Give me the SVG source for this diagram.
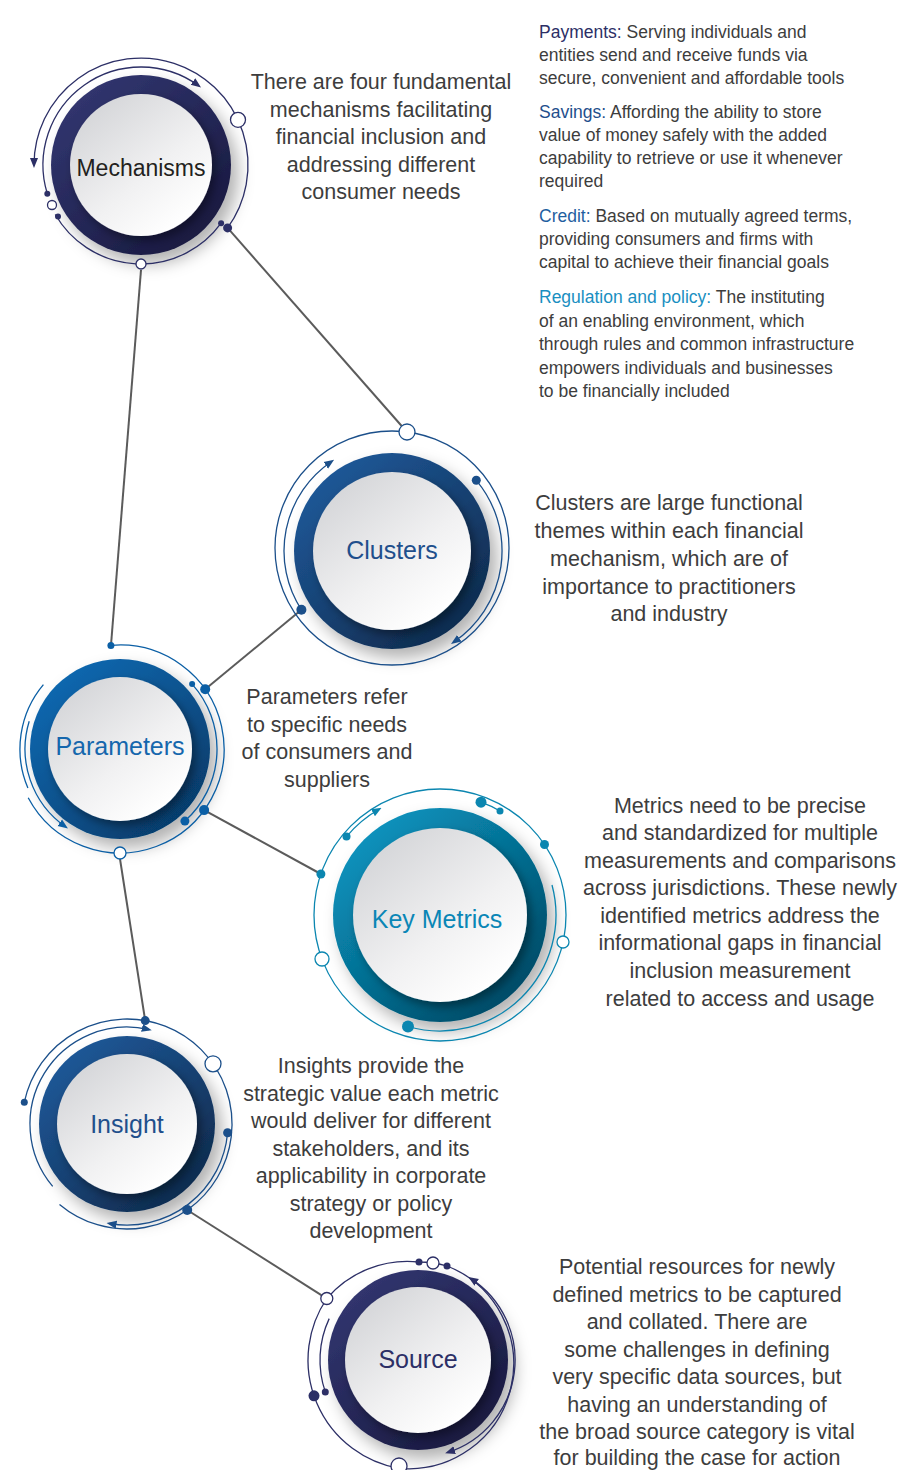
<svg xmlns="http://www.w3.org/2000/svg" width="901" height="1470" viewBox="0 0 901 1470">
<style>
.desc{font-family:"Liberation Sans",Arial,sans-serif;font-size:21.5px;fill:#3d3d3d;text-anchor:middle}
.side{font-family:"Liberation Sans",Arial,sans-serif;font-size:17.5px;fill:#3d3d3d}
.lbl{font-family:"Liberation Sans",Arial,sans-serif;font-size:25px;text-anchor:middle}
.conn{stroke:#5b5b5b;stroke-width:2;fill:none}
.arc{fill:none;stroke-width:1.3}
.hol{fill:#fff;stroke-width:1.3}
.navy .arc,.navy .hol{stroke:#2c2f66}.navy .dot{fill:#2c2f66}
.blue .arc,.blue .hol{stroke:#1b4f8a}.blue .dot{fill:#1b4f8a}
.pblue .arc,.pblue .hol{stroke:#0b5fa5}.pblue .dot{fill:#0b5fa5}
.teal .arc,.teal .hol{stroke:#0b86b0}.teal .dot{fill:#0b86b0}
</style>
<defs>
<linearGradient id="gNavy" x1="0.15" y1="0.1" x2="0.85" y2="0.9"><stop offset="0" stop-color="#31356f"/><stop offset="1" stop-color="#191a40"/></linearGradient>
<linearGradient id="gBlue" x1="0.15" y1="0.1" x2="0.85" y2="0.9"><stop offset="0" stop-color="#1e5898"/><stop offset="1" stop-color="#0f2b4e"/></linearGradient>
<linearGradient id="gPar" x1="0.15" y1="0.1" x2="0.85" y2="0.9"><stop offset="0" stop-color="#0d68b0"/><stop offset="1" stop-color="#063c6b"/></linearGradient>
<linearGradient id="gTeal" x1="0.15" y1="0.1" x2="0.85" y2="0.9"><stop offset="0" stop-color="#0a93be"/><stop offset="1" stop-color="#004a66"/></linearGradient>
<linearGradient id="gIn" x1="0.15" y1="0.1" x2="0.8" y2="0.9"><stop offset="0" stop-color="#d5d6d9"/><stop offset="0.6" stop-color="#f1f1f2"/><stop offset="1" stop-color="#ffffff"/></linearGradient>
<filter id="sh" x="-30%" y="-30%" width="170%" height="170%"><feDropShadow dx="7" dy="9" stdDeviation="8" flood-color="#000" flood-opacity="0.3"/></filter>
<filter id="shIn" x="-30%" y="-30%" width="170%" height="170%"><feDropShadow dx="4" dy="5" stdDeviation="5" flood-color="#000" flood-opacity="0.4"/></filter>
<marker id="aNavy" viewBox="0 0 10 10" refX="7" refY="5" markerWidth="10" markerHeight="10" markerUnits="userSpaceOnUse" orient="auto-start-reverse"><path d="M0,1 L10,5 L0,9 z" fill="#2c2f66"/></marker>
<marker id="aBlue" viewBox="0 0 10 10" refX="7" refY="5" markerWidth="10" markerHeight="10" markerUnits="userSpaceOnUse" orient="auto-start-reverse"><path d="M0,1 L10,5 L0,9 z" fill="#1b4f8a"/></marker>
<marker id="aPar" viewBox="0 0 10 10" refX="7" refY="5" markerWidth="10" markerHeight="10" markerUnits="userSpaceOnUse" orient="auto-start-reverse"><path d="M0,1 L10,5 L0,9 z" fill="#0b5fa5"/></marker>
<marker id="aTeal" viewBox="0 0 10 10" refX="7" refY="5" markerWidth="10" markerHeight="10" markerUnits="userSpaceOnUse" orient="auto-start-reverse"><path d="M0,1 L10,5 L0,9 z" fill="#0b86b0"/></marker>
</defs>
<rect width="901" height="1470" fill="#ffffff"/>

<g id="connectors">
<path class="conn" d="M141,270 L111,645"/>
<path class="conn" d="M227.6,227.9 L401.7,426"/>
<path class="conn" d="M205.2,689.3 L301.4,609.8"/>
<path class="conn" d="M204.1,810.1 L320.9,874"/>
<path class="conn" d="M120,859 L145.2,1020.6"/>
<path class="conn" d="M187.2,1210 L321.7,1295.3"/>
</g>

<g id="mechanisms" class="navy">
<circle cx="141" cy="165" r="90" fill="url(#gNavy)" filter="url(#sh)"/>
<circle cx="141" cy="165" r="71" fill="url(#gIn)" filter="url(#shIn)"/>
<text class="lbl" x="141" y="176" fill="#231f20" style="font-size:23px">Mechanisms</text>
<path class="arc" d="M34,165 A107,107 0 1 1 227.6,227.9" marker-start="url(#aNavy)"/>
<path class="arc" d="M198.6,85.7 A98,98 0 0 0 47.3,193.7" marker-start="url(#aNavy)"/>
<path class="arc" d="M55.3,214.5 A99,99 0 0 0 221.1,223.2"/>
<circle class="hol" cx="238" cy="119.8" r="7.5"/>
<circle class="dot" cx="227.6" cy="227.9" r="4.5"/>
<circle class="dot" cx="47.3" cy="193.7" r="3"/>
<circle class="hol" cx="52" cy="205" r="4.5"/>
<circle class="dot" cx="58" cy="216.5" r="3"/>
<circle class="dot" cx="221.1" cy="223.2" r="3"/>
<circle class="hol" cx="141" cy="264" r="5"/>
</g>
<text class="desc"><tspan x="381" y="89">There are four fundamental</tspan><tspan x="381" y="117">mechanisms facilitating</tspan><tspan x="381" y="144">financial inclusion and</tspan><tspan x="381" y="172">addressing different</tspan><tspan x="381" y="199">consumer needs</tspan></text>

<text class="side">
<tspan x="539" y="37.7"><tspan fill="#2c2f66">Payments:</tspan> Serving individuals and</tspan>
<tspan x="539" y="60.7">entities send and receive funds via</tspan>
<tspan x="539" y="83.7">secure, convenient and affordable tools</tspan>
<tspan x="539" y="118.3"><tspan fill="#1f4f8c">Savings:</tspan> Affording the ability to store</tspan>
<tspan x="539" y="141.3">value of money safely with the added</tspan>
<tspan x="539" y="164.3">capability to retrieve or use it whenever</tspan>
<tspan x="539" y="187.3">required</tspan>
<tspan x="539" y="221.7"><tspan fill="#1f5fa0">Credit:</tspan> Based on mutually agreed terms,</tspan>
<tspan x="539" y="244.7">providing consumers and firms with</tspan>
<tspan x="539" y="267.7">capital to achieve their financial goals</tspan>
<tspan x="539" y="303.3"><tspan fill="#1a8fc1">Regulation and policy:</tspan> The instituting</tspan>
<tspan x="539" y="327">of an enabling environment, which</tspan>
<tspan x="539" y="350.3">through rules and common infrastructure</tspan>
<tspan x="539" y="373.7">empowers individuals and businesses</tspan>
<tspan x="539" y="397">to be financially included</tspan>
</text>

<g id="clusters" class="blue">
<circle cx="392" cy="551" r="98" fill="url(#gBlue)" filter="url(#sh)"/>
<circle cx="392" cy="551" r="79" fill="url(#gIn)" filter="url(#shIn)"/>
<text class="lbl" x="392" y="559" fill="#1f4f8c">Clusters</text>
<circle class="arc" cx="392" cy="548" r="117"/>
<path class="arc" d="M301.4,609.8 A108,108 0 0 1 331.6,461.5" marker-end="url(#aBlue)"/>
<path class="arc" d="M476.3,480.3 A110,110 0 0 1 453.5,642.2" marker-end="url(#aBlue)"/>
<circle class="dot" cx="301.4" cy="609.8" r="5"/>
<circle class="dot" cx="476.3" cy="480.3" r="4.5"/>
<circle class="hol" cx="407" cy="432" r="8"/>
</g>
<text class="desc"><tspan x="669" y="510">Clusters are large functional</tspan><tspan x="669" y="538">themes within each financial</tspan><tspan x="669" y="566">mechanism, which are of</tspan><tspan x="669" y="594">importance to practitioners</tspan><tspan x="669" y="621">and industry</tspan></text>

<g id="parameters" class="pblue">
<circle cx="120" cy="749" r="90" fill="url(#gPar)" filter="url(#sh)"/>
<circle cx="120" cy="749" r="72" fill="url(#gIn)" filter="url(#shIn)"/>
<text class="lbl" x="120" y="755" fill="#1567ad">Parameters</text>
<path class="arc" d="M110.9,645.4 A104,104 0 1 1 28.2,797.8"/>
<path class="arc" d="M192.1,684.1 A97,97 0 0 1 184.9,821.1"/>
<path class="arc" d="M29.2,721.2 A95,95 0 0 0 65.5,826.8" marker-end="url(#aPar)"/>
<path class="arc" d="M43.4,684.7 A100,100 0 0 0 27.9,788.1"/>
<circle class="dot" cx="110.9" cy="645.4" r="3.5"/>
<circle class="dot" cx="192.1" cy="684.1" r="3"/>
<circle class="dot" cx="205.2" cy="689.3" r="5"/>
<circle class="dot" cx="204.1" cy="810.1" r="5"/>
<circle class="dot" cx="184.9" cy="821.1" r="4.5"/>
<circle class="hol" cx="120" cy="853" r="6"/>
</g>
<text class="desc"><tspan x="327" y="704">Parameters refer</tspan><tspan x="327" y="732">to specific needs</tspan><tspan x="327" y="759">of consumers and</tspan><tspan x="327" y="787">suppliers</tspan></text>

<g id="key-metrics" class="teal">
<circle cx="440" cy="915" r="107" fill="url(#gTeal)" filter="url(#sh)"/>
<circle cx="440" cy="915" r="87" fill="url(#gIn)" filter="url(#shIn)"/>
<text class="lbl" x="437" y="928" fill="#0a86b6">Key Metrics</text>
<circle class="arc" cx="440" cy="915" r="126"/>
<path class="arc" d="M346.5,836.6 A122,122 0 0 1 379,809.3" marker-end="url(#aTeal)"/>
<path class="arc" d="M481,802.2 A120,120 0 0 1 500,811"/>
<path class="arc" d="M408,1026.5 A116,116 0 0 0 552,885"/>
<circle class="dot" cx="346.5" cy="836.6" r="4"/>
<circle class="dot" cx="481" cy="802.2" r="5.5"/>
<circle class="dot" cx="500" cy="811" r="3.5"/>
<circle class="dot" cx="408" cy="1026.5" r="6"/>
<circle class="dot" cx="320.9" cy="874" r="4.5"/>
<circle class="dot" cx="544.5" cy="844.5" r="4.5"/>
<circle class="hol" cx="322" cy="959" r="7"/>
<circle class="hol" cx="563" cy="942" r="6"/>
</g>
<text class="desc"><tspan x="740" y="813">Metrics need to be precise</tspan><tspan x="740" y="840">and standardized for multiple</tspan><tspan x="740" y="868">measurements and comparisons</tspan><tspan x="740" y="895">across jurisdictions. These newly</tspan><tspan x="740" y="923">identified metrics address the</tspan><tspan x="740" y="950">informational gaps in financial</tspan><tspan x="740" y="978">inclusion measurement</tspan><tspan x="740" y="1006">related to access and usage</tspan></text>

<g id="insight" class="blue">
<circle cx="127" cy="1124" r="88" fill="url(#gBlue)" filter="url(#sh)"/>
<circle cx="127" cy="1124" r="70" fill="url(#gIn)" filter="url(#shIn)"/>
<text class="lbl" x="127" y="1133" fill="#1f4f8c">Insight</text>
<path class="arc" d="M24.3,1102.2 A105,105 0 1 1 59.5,1204.4"/>
<path class="arc" d="M52.7,1186.4 A97,97 0 0 1 148.8,1029.5" marker-end="url(#aBlue)"/>
<path class="arc" d="M227.6,1132.8 A101,101 0 0 1 109.5,1223.5" marker-end="url(#aBlue)"/>
<circle class="dot" cx="24.3" cy="1102.2" r="3.5"/>
<circle class="dot" cx="145.2" cy="1020.6" r="4.5"/>
<circle class="hol" cx="213" cy="1063.8" r="8"/>
<circle class="dot" cx="187.2" cy="1210" r="5"/>
<circle class="dot" cx="227.6" cy="1132.8" r="4.5"/>
</g>
<text class="desc"><tspan x="371" y="1073">Insights provide the</tspan><tspan x="371" y="1101">strategic value each metric</tspan><tspan x="371" y="1128">would deliver for different</tspan><tspan x="371" y="1156">stakeholders, and its</tspan><tspan x="371" y="1183">applicability in corporate</tspan><tspan x="371" y="1211">strategy or policy</tspan><tspan x="371" y="1238">development</tspan></text>

<g id="source" class="navy">
<circle cx="418" cy="1360" r="90" fill="url(#gNavy)" filter="url(#sh)"/>
<circle cx="418" cy="1360" r="73" fill="url(#gIn)" filter="url(#shIn)"/>
<text class="lbl" x="418" y="1368" fill="#2c2f66">Source</text>
<path class="arc" d="M326.8,1298.5 A110,110 0 0 0 398.9,1468.3"/>
<path class="arc" d="M326.8,1298.5 A106,106 0 0 1 419,1262 A100,100 0 0 1 447,1266"/>
<path class="arc" d="M447,1266 A105,105 0 0 1 398.9,1468.3"/>
<path class="arc" d="M470.8,1278.6 A97,97 0 0 1 448,1452.3" marker-start="url(#aNavy)" marker-end="url(#aNavy)"/>
<path class="arc" d="M325.3,1391.9 A98,98 0 0 1 329.2,1318.6"/>
<circle class="dot" cx="314" cy="1395.8" r="5.5"/>
<circle class="dot" cx="325.3" cy="1391.9" r="3.5"/>
<circle class="hol" cx="326.8" cy="1298.5" r="6"/>
<circle class="dot" cx="419" cy="1262" r="3.5"/>
<circle class="hol" cx="433" cy="1263" r="6"/>
<circle class="dot" cx="447" cy="1266" r="3.5"/>
<circle class="hol" cx="399" cy="1466" r="8"/>
</g>
<text class="desc"><tspan x="697" y="1274">Potential resources for newly</tspan><tspan x="697" y="1301.5">defined metrics to be captured</tspan><tspan x="697" y="1329">and collated. There are</tspan><tspan x="697" y="1356.5">some challenges in defining</tspan><tspan x="697" y="1384">very specific data sources, but</tspan><tspan x="697" y="1411.5">having an understanding of</tspan><tspan x="697" y="1439">the broad source category is vital</tspan><tspan x="697" y="1465">for building the case for action</tspan></text>
</svg>
